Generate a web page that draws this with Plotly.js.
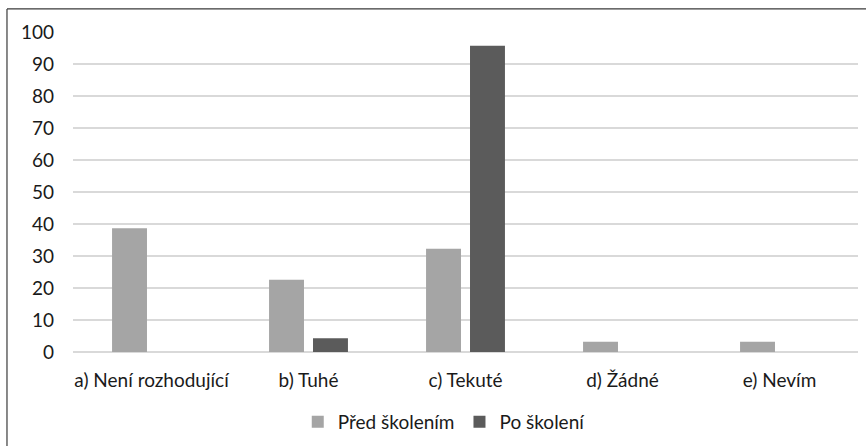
<!DOCTYPE html>
<html>
<head>
<meta charset="utf-8">
<script src="https://cdn.plot.ly/plotly-3.0.1.min.js"></script>
<style>
  html, body { margin: 0; padding: 0; background: #fff; }
  #chart { width: 866px; height: 446px; }
</style>
</head>
<body>
<div id="chart"></div>
<script>
// Answer categories
const categories = ['a) Není rozhodující', 'b) Tuhé', 'c) Tekuté', 'd) Žádné', 'e) Nevím'];
// Share of respondents (%) before and after the training
const beforeValues = [38.7, 22.6, 32.3, 3.2, 3.2];
const afterValues = [0, 4.3, 95.7, 0, 0];
const seriesNames = ['Před školením', 'Po školení'];
const yTicks = [0, 10, 20, 30, 40, 50, 60, 70, 80, 90, 100];

const font = { family: 'Lato, "Open Sans", sans-serif', size: 19, color: '#1a1a1a' };

const traces = [
  {
    type: 'bar', name: seriesNames[0], x: categories, y: beforeValues,
    marker: { color: '#a5a5a5', line: { width: 0 } },
    hoverinfo: 'x+y'
  },
  {
    type: 'bar', name: seriesNames[1], x: categories, y: afterValues,
    marker: { color: '#5b5b5b', line: { width: 0 } },
    hoverinfo: 'x+y'
  }
];

const layout = {
  width: 866, height: 446,
  margin: { l: 73, r: 8, t: 32, b: 94, pad: 0, autoexpand: false },
  paper_bgcolor: '#ffffff', plot_bgcolor: '#ffffff',
  font: font,
  barmode: 'group', bargap: 0.44, bargroupgap: 0.205,
  showlegend: true,
  legend: {
    orientation: 'h', xref: 'container', yref: 'container',
    x: 0.513, xanchor: 'center', y: 0.054, yanchor: 'middle',
    font: font, itemwidth: 30, traceorder: 'normal'
  },
  xaxis: {
    type: 'category', showgrid: false, zeroline: false, showline: false, automargin: false,
    ticks: '', ticklabelstandoff: 15, tickfont: font, fixedrange: true
  },
  yaxis: {
    range: [0, 100], tickvals: yTicks, ticktext: yTicks.map(String), automargin: false,
    showgrid: true, gridcolor: '#d9d9d9', gridwidth: 1.5,
    zeroline: true, zerolinecolor: '#d9d9d9', zerolinewidth: 1.5,
    showline: false, ticks: '', ticklabelstandoff: 18, tickfont: font, fixedrange: true
  },
  shapes: [
    // chart frame: top and left edges
    { type: 'line', xref: 'paper', yref: 'paper', x0: -0.0841, x1: 1.02, y0: 1.072, y1: 1.072,
      line: { color: '#3a3a3a', width: 1.2 } },
    { type: 'line', xref: 'paper', yref: 'paper', x0: -0.0841, x1: -0.0841, y0: 1.072, y1: -0.31,
      line: { color: '#3a3a3a', width: 1.2 } }
  ]
};

Plotly.newPlot('chart', traces, layout, { displayModeBar: false, staticPlot: true });
</script>
</body>
</html>
